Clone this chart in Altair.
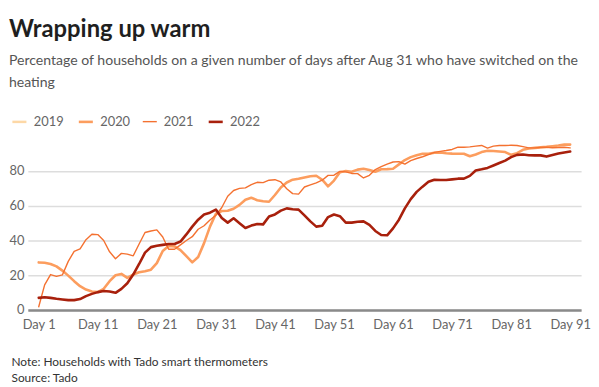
import altair as alt
import pandas as pd

days = list(range(1, 92))

y2020 = [27.4, 27.2, 26.5, 25.1, 22.7, 19.8, 16.6, 13.7, 11.8, 10.7,
         10.3, 12.2, 16.6, 20.0, 20.8, 18.5, 20.4, 21.7, 22.3, 23.2,
         27.0, 34.0, 36.8, 36.6, 34.5, 31.0, 27.4, 30.5, 38.5, 48.0,
         55.4, 57.0, 57.1, 58.3, 60.5, 63.5, 64.6, 63.2, 62.6, 62.3,
         66.2, 70.5, 73.4, 75.0, 75.5, 76.3, 77.0, 77.3, 75.0, 71.2,
         74.5, 79.3, 80.0, 79.6, 80.8, 81.3, 80.6, 79.6, 81.0, 81.1,
         81.3, 83.8, 86.3, 88.0, 89.1, 89.9, 89.9, 90.5, 90.6, 90.2,
         90.0, 89.9, 89.9, 88.5, 89.5, 90.9, 91.6, 91.5, 91.2, 90.9,
         89.3, 90.3, 92.2, 93.0, 93.3, 93.6, 93.9, 94.3, 94.7, 95.2,
         95.2]

y2021 = [1.9, 14.5, 20.4, 19.4, 20.2, 28.0, 33.8, 35.2, 40.5, 43.6,
         43.4, 40.0, 33.5, 29.5, 32.6, 32.2, 31.2, 38.0, 44.6, 45.5,
         46.1, 42.0, 35.0, 35.0, 37.5, 40.0, 42.2, 46.5, 48.5, 51.8,
         54.5, 59.0, 65.5, 68.8, 70.0, 70.3, 72.2, 73.5, 73.3, 74.7,
         75.0, 73.7, 69.8, 67.0, 66.7, 70.8, 72.0, 73.2, 74.7, 77.5,
         77.6, 79.8, 79.5, 78.6, 78.5, 76.0, 77.5, 80.8, 82.5, 84.0,
         85.2, 85.4, 84.0, 86.0, 87.2, 88.2, 89.4, 90.7, 91.3, 91.8,
         92.4, 93.7, 93.7, 93.9, 94.3, 94.7, 93.2, 94.3, 94.7, 94.7,
         94.8, 94.7, 94.0, 93.3, 93.3, 93.6, 93.7, 93.4, 93.5, 93.7,
         93.3]

y2022 = [7.0, 7.4, 7.0, 6.5, 6.1, 5.7, 5.7, 6.3, 8.0, 9.3,
         10.3, 10.9, 10.7, 9.9, 12.2, 15.4, 20.4, 26.5, 33.0, 36.2,
         37.0, 37.5, 38.0, 38.0, 39.4, 43.5, 48.0, 52.0, 55.0, 56.0,
         57.8, 53.0, 50.3, 52.8, 50.0, 47.2, 48.6, 49.5, 49.3, 53.8,
         55.0, 57.2, 58.5, 58.0, 57.8, 54.5, 51.0, 48.0, 48.5, 53.5,
         55.0, 54.0, 50.3, 50.3, 50.8, 51.0, 49.0, 45.5, 43.2, 43.0,
         47.0, 52.0, 58.5, 63.8, 68.0, 71.0, 73.8, 75.0, 74.8, 74.8,
         75.2, 75.6, 75.6, 77.2, 80.3, 81.0, 81.8, 83.2, 84.6, 86.0,
         88.0, 89.3, 89.5, 89.1, 89.0, 89.0, 88.3, 89.2, 90.1, 90.7,
         91.2]

years = ["2019", "2020", "2021", "2022"]
year_colors = ["#fdd8a6", "#fc9d5e", "#f47130", "#a8200c"]
year_widths = [2.5, 2.6, 1.4, 2.6]
tick_days = [1, 11, 21, 31, 41, 51, 61, 71, 81, 91]
y_ticks = [0, 20, 40, 60, 80]

title_text = "Wrapping up warm"
subtitle_lines = [
    "Percentage of households on a given number of days after Aug 31 who have switched on the",
    "heating",
]
footer_lines = ["Note: Households with Tado smart thermometers", "Source: Tado"]

rows = []
for yr, vals in (("2020", y2020), ("2021", y2021), ("2022", y2022)):
    for d, v in zip(days, vals):
        rows.append({"day": d, "pct": v, "year": yr})
df = pd.DataFrame(rows)

FONT = "Lato"

chart = (
    alt.Chart(df)
    .mark_line(strokeJoin="round", strokeCap="round")
    .encode(
        x=alt.X(
            "day:Q",
            scale=alt.Scale(domain=[1, 91], padding=11, nice=False, zero=False),
            axis=alt.Axis(
                values=tick_days,
                labelExpr="'Day ' + datum.value",
                grid=False,
                ticks=False,
                domain=True,
                domainColor="#8a8a8a",
                domainWidth=2.5,
                labelColor="#666666",
                labelFontSize=13,
                labelFont=FONT,
                labelPadding=9,
                title=footer_lines,
                titleFont=FONT,
                titleFontSize=12,
                titleFontWeight="normal",
                titleColor="#333333",
                titleAnchor="start",
                titleAlign="left",
                titleBaseline="alphabetic",
                titleX=-17,
                titleY=55.5,
                titleLineHeight=16.5,
            ),
        ),
        y=alt.Y(
            "pct:Q",
            scale=alt.Scale(domain=[0, 97], nice=False),
            axis=alt.Axis(
                values=y_ticks,
                grid=True,
                gridColor="#dddddd",
                gridWidth=1.5,
                domain=False,
                ticks=False,
                labelColor="#666666",
                labelFontSize=13,
                labelFont=FONT,
                labelPadding=4,
                title=None,
            ),
        ),
        color=alt.Color(
            "year:N",
            scale=alt.Scale(domain=years, range=year_colors),
            legend=alt.Legend(
                title=None,
                orient="none",
                direction="horizontal",
                legendX=-17,
                legendY=-28.5,
                symbolType="stroke",
                symbolSize=200,
                symbolStrokeWidth=3,
                labelFont=FONT,
                labelFontSize=13,
                labelColor="#666666",
                labelOffset=6,
                columnPadding=9,
            ),
        ),
        strokeWidth=alt.StrokeWidth(
            "year:N",
            scale=alt.Scale(type="ordinal", domain=years, range=year_widths),
            legend=None,
        ),
    )
    .properties(
        width=558,
        height=170,
        padding={"left": 0, "top": 8, "right": 0, "bottom": 0},
        title=alt.TitleParams(
            text=title_text,
            subtitle=subtitle_lines,
            anchor="start",
            frame="bounds",
            font=FONT,
            fontSize=24,
            fontWeight="bold",
            color="#1f1f1f",
            subtitleFont=FONT,
            subtitleFontSize=14.2,
            subtitleColor="#555555",
            subtitleLineHeight=22,
            subtitlePadding=12,
            offset=23.5,
        ),
    )
    .configure_view(stroke=None)
)

chart.save("out.html", embed_options={"renderer": "svg", "actions": False})
